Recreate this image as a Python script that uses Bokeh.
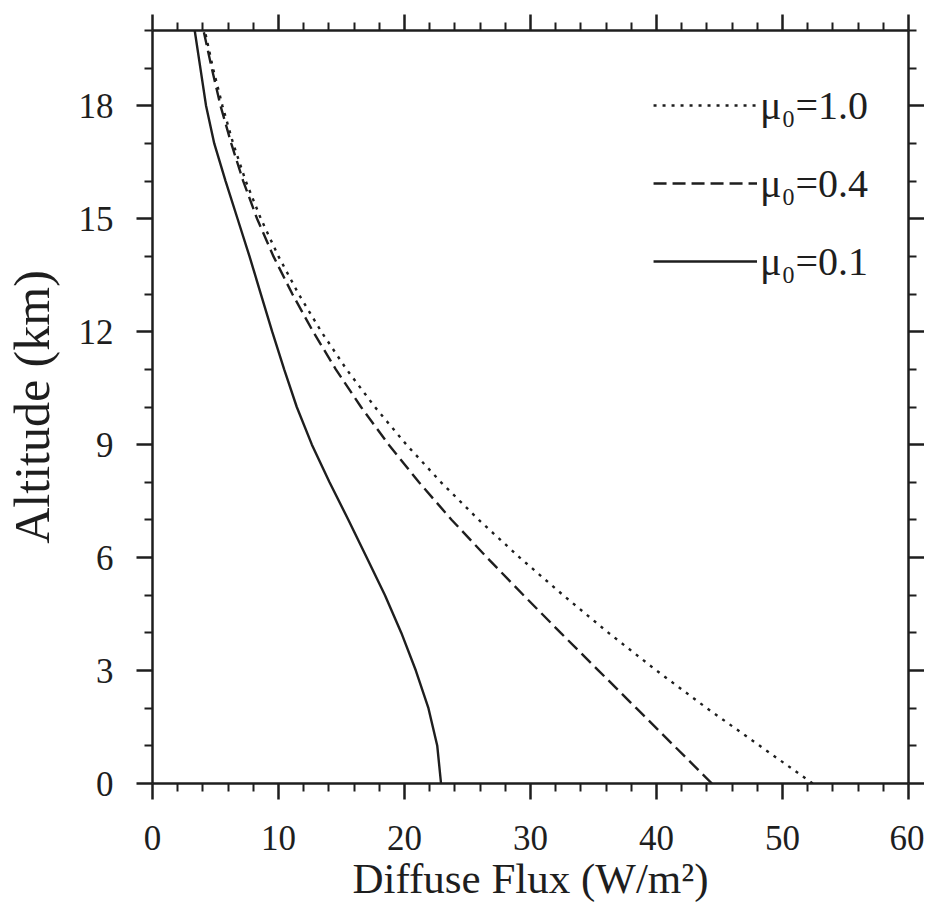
from bokeh.plotting import figure
from bokeh.models import Range1d, LinearAxis, FixedTicker, Legend, LegendItem, CustomJSTickFormatter
from bokeh.embed import file_html
from bokeh.resources import INLINE

# ---- data ----
altitude_km = [0, 1, 2, 3, 4, 5, 6, 7, 8, 9, 10, 11, 12, 13, 14, 15, 16, 17, 18, 19, 20]
flux_mu10 = [52.4, 48.2, 44.0, 40.0, 36.2, 32.6, 29.15, 25.9, 22.9, 20.15, 17.65, 15.4, 13.4,
             11.6, 10.0, 8.6, 7.4, 6.4, 5.55, 4.8, 4.15]
flux_mu04 = [44.4, 41.4, 38.4, 35.4, 32.4, 29.45, 26.55, 23.75, 21.15, 18.75, 16.55, 14.55, 12.75,
             11.1, 9.6, 8.3, 7.2, 6.25, 5.4, 4.7, 4.05]
flux_mu01 = [22.9, 22.6, 21.9, 20.9, 19.75, 18.45, 17.0, 15.55, 14.05, 12.65, 11.45, 10.45, 9.5,
             8.6, 7.7, 6.75, 5.8, 4.9, 4.25, 3.8, 3.35]
series_labels = ["\u03bc\u2080=1.0", "\u03bc\u2080=0.4", "\u03bc\u2080=0.1"]

x_major_ticks = [0, 10, 20, 30, 40, 50, 60]
x_minor_ticks = [2, 4, 6, 8, 12, 14, 16, 18, 22, 24, 26, 28, 32, 34, 36, 38, 42, 44, 46, 48, 52, 54, 56, 58]
y_major_ticks = [0, 3, 6, 9, 12, 15, 18]
y_minor_ticks = [1, 2, 4, 5, 7, 8, 10, 11, 13, 14, 16, 17, 19, 20]

x_title = "Diffuse Flux (W/m\u00b2)"
y_title = "Altitude (km)"

FONT = "Liberation Serif"
INK = "#1e1e1e"

p = figure(frame_width=756, frame_height=753,
           x_range=Range1d(0, 60), y_range=Range1d(0, 20),
           output_backend="svg", toolbar_location=None,
           x_axis_location=None, y_axis_location=None,
           min_border_left=151, min_border_top=30, min_border_right=0, min_border_bottom=0)
p.grid.visible = False
p.outline_line_color = None
p.background_fill_color = "white"
p.border_fill_color = "white"


def style_axis(ax, ticks, minor, labelled):
    ax.ticker = FixedTicker(ticks=ticks, minor_ticks=minor)
    ax.axis_line_color = INK
    ax.axis_line_width = 2.5
    ax.major_tick_line_color = INK
    ax.major_tick_line_width = 2.5
    ax.minor_tick_line_color = INK
    ax.minor_tick_line_width = 2
    ax.major_tick_in = 0
    ax.major_tick_out = 16
    ax.minor_tick_in = 0
    ax.minor_tick_out = 8
    if labelled:
        ax.major_label_text_font = FONT
        ax.major_label_text_font_size = "35px"
        ax.major_label_text_color = INK
        ax.axis_label_text_font = FONT
        ax.axis_label_text_font_style = "normal"
        ax.axis_label_text_color = INK
    else:
        ax.formatter = CustomJSTickFormatter(code="return ''")
        ax.major_label_text_font_size = "1px"
        ax.major_label_standoff = 0


xb = LinearAxis(axis_label=x_title)
style_axis(xb, x_major_ticks, x_minor_ticks, True)
xb.axis_label_text_font_size = "43px"
xb.major_label_standoff = 26
xb.axis_label_standoff = 2
p.add_layout(xb, "below")

yl = LinearAxis(axis_label=y_title)
style_axis(yl, y_major_ticks, y_minor_ticks, True)
yl.axis_label_text_font_size = "50px"
yl.major_label_standoff = 23
yl.axis_label_standoff = 16
p.add_layout(yl, "left")

xt = LinearAxis()
style_axis(xt, x_major_ticks, x_minor_ticks, False)
p.add_layout(xt, "above")

yr = LinearAxis()
style_axis(yr, y_major_ticks, y_minor_ticks, False)
p.add_layout(yr, "right")

r10 = p.line(flux_mu10, altitude_km, line_color=INK, line_width=2.4, line_dash="3 6")
r04 = p.line(flux_mu04, altitude_km, line_color=INK, line_width=2.4, line_dash="13 6")
r01 = p.line(flux_mu01, altitude_km, line_color=INK, line_width=2.4)

legend = Legend(items=[LegendItem(label=series_labels[0], renderers=[r10]),
                       LegendItem(label=series_labels[1], renderers=[r04]),
                       LegendItem(label=series_labels[2], renderers=[r01])],
                location="top_right", glyph_width=104, glyph_height=70, label_height=70,
                spacing=8, margin=20, padding=20, label_standoff=3,
                background_fill_alpha=0, border_line_alpha=0,
                label_text_font=FONT, label_text_font_size="40px", label_text_color=INK)
p.add_layout(legend)

open("out.html", "w").write(file_html(p, INLINE))
